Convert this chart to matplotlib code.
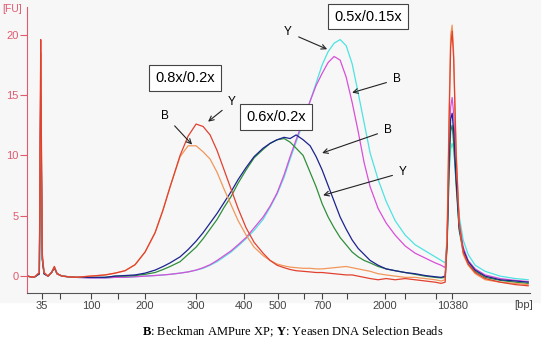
import matplotlib.pyplot as plt
from matplotlib.patches import Rectangle

plt.rcParams['font.family'] = ['Liberation Sans', 'DejaVu Sans']
plt.rcParams['mathtext.fontset'] = 'custom'
plt.rcParams['mathtext.rm'] = 'Liberation Serif'
plt.rcParams['mathtext.bf'] = 'Liberation Serif:bold'

# migration position along the run (same scale as the ladder ticks)
pos = [27, 34, 39.3, 40.2, 40.7, 41.3, 42.3, 44, 48, 51.5, 54.3, 57, 62,
       75, 90, 105, 115, 125, 135, 145, 155, 163, 170, 180, 188, 196,
       203, 210, 217, 224, 231, 238, 246, 254, 263, 270, 277, 284, 290, 296,
       303, 310, 316, 322, 328, 334, 340, 346, 352, 358, 364, 370, 378, 386, 395,
       405, 415, 425, 435, 441, 445,
       447, 449, 450.5, 452, 453.5, 456, 459, 463, 468, 475, 485, 500, 515, 528]

# ladder ticks: position and fragment size
ladder_pos = [41.7, 60, 91, 118, 145, 196, 244, 278, 304, 322, 347, 385, 405, 436, 452]
ladder_bp = ['35', '', '100', '', '200', '300', '400', '500', '', '700', '', '2000', '', '', '10380']

# fluorescence [FU]
fu_08_Y = [0.0, -0.1, 0.3, 13.5, 19.6, 12.0, 1.8, 0.3, 0.0, 0.3, 0.8, 0.2, 0.0,
           -0.1, 0.0, 0.1, 0.25, 0.45, 0.95, 2.0, 3.6, 5.5, 7.4, 10.0, 11.6, 12.6,
           12.4, 11.7, 10.4, 8.8, 7.2, 5.6, 4.0, 2.8, 1.9, 1.3, 0.9, 0.7, 0.55, 0.45,
           0.4, 0.35, 0.3, 0.3, 0.25, 0.2, 0.15, 0.1, 0.1, 0.0, -0.1, -0.2, -0.3, -0.2, -0.3,
           -0.2, -0.3, -0.4, -0.5, -0.6, -0.5,
           3.0, 13.0, 19.0, 20.3, 18.0, 10.0, 4.5, 2.0, 1.0, 0.3, -0.2, -0.5, -0.7, -0.8]
fu_08_B = [0.0, -0.1, 0.3, 12.5, 18.5, 11.0, 1.6, 0.3, 0.0, 0.3, 0.8, 0.2, 0.0,
           -0.1, 0.0, 0.1, 0.25, 0.45, 0.95, 2.0, 3.6, 5.5, 7.4, 9.9, 10.8, 10.8,
           10.3, 9.7, 8.6, 7.2, 5.9, 4.6, 3.4, 2.4, 1.7, 1.3, 1.0, 0.85, 0.75, 0.7,
           0.65, 0.65, 0.6, 0.6, 0.65, 0.7, 0.75, 0.8, 0.7, 0.6, 0.5, 0.4, 0.2, 0.1, 0.0,
           -0.1, -0.1, -0.2, -0.3, -0.4, -0.3,
           4.0, 14.0, 20.0, 20.8, 18.5, 10.5, 4.5, 1.8, 0.9, 0.2, -0.3, -0.5, -0.6, -0.7]
fu_06_B = [0.0, -0.1, 0.2, 10.5, 15.0, 9.0, 1.4, 0.2, 0.0, 0.3, 0.7, 0.2, 0.0,
           -0.1, -0.1, -0.1, 0.0, 0.05, 0.1, 0.25, 0.5, 0.8, 1.1, 1.6, 2.2, 2.9,
           3.6, 4.4, 5.2, 6.1, 7.0, 8.0, 9.0, 9.9, 10.6, 11.0, 11.3, 11.5, 11.4, 11.7,
           11.3, 10.8, 9.9, 8.8, 7.5, 6.2, 4.9, 3.9, 3.0, 2.3, 1.8, 1.3, 0.9, 0.6, 0.45,
           0.3, 0.2, 0.05, -0.05, -0.1, 0.0,
           3.0, 10.0, 13.0, 13.5, 12.0, 8.0, 4.0, 2.2, 1.2, 0.5, 0.0, -0.3, -0.4, -0.5]
fu_06_Y = [0.0, -0.1, 0.2, 9.5, 13.5, 8.0, 1.3, 0.2, 0.0, 0.3, 0.7, 0.2, 0.0,
           -0.1, -0.1, -0.1, 0.0, 0.0, 0.05, 0.15, 0.3, 0.55, 0.8, 1.2, 1.8, 2.4,
           3.1, 3.9, 4.7, 5.7, 6.6, 7.7, 8.8, 9.8, 10.5, 11.0, 11.3, 11.4, 11.1, 10.6,
           10.0, 8.6, 7.4, 6.0, 4.9, 4.0, 3.2, 2.6, 2.0, 1.6, 1.3, 1.1, 0.8, 0.6, 0.45,
           0.3, 0.15, 0.0, -0.1, -0.15, -0.1,
           2.5, 9.0, 12.0, 12.5, 11.0, 7.5, 3.8, 2.0, 1.0, 0.4, -0.1, -0.35, -0.5, -0.6]
fu_05_B = [0.0, -0.1, 0.2, 11.5, 16.5, 10.0, 1.5, 0.2, 0.0, 0.3, 0.7, 0.2, 0.0,
           -0.1, -0.15, -0.15, -0.1, -0.1, -0.05, 0.0, 0.05, 0.1, 0.15, 0.25, 0.35, 0.5,
           0.7, 0.95, 1.3, 1.7, 2.1, 2.6, 3.2, 4.0, 4.9, 5.8, 6.9, 8.4, 9.9, 11.3,
           12.9, 14.5, 15.8, 16.8, 17.7, 18.2, 17.9, 16.5, 14.4, 12.0, 9.4, 7.4, 5.6, 4.4, 3.4,
           2.5, 1.9, 1.5, 1.1, 0.9, 0.7,
           3.0, 11.0, 14.0, 14.8, 13.5, 9.0, 4.5, 2.4, 1.3, 0.6, 0.1, -0.2, -0.35, -0.45]
fu_05_Y = [0.0, -0.1, 0.2, 11.0, 15.5, 9.5, 1.4, 0.2, 0.0, 0.3, 0.7, 0.2, 0.0,
           -0.1, -0.15, -0.15, -0.1, -0.1, -0.05, 0.0, 0.05, 0.1, 0.15, 0.25, 0.35, 0.5,
           0.65, 0.9, 1.2, 1.6, 2.0, 2.5, 3.1, 3.8, 4.7, 5.7, 6.8, 8.2, 9.7, 11.1,
           12.7, 14.5, 16.0, 17.5, 18.6, 19.3, 19.6, 19.1, 17.6, 15.2, 12.7, 10.2, 8.0, 6.2, 4.6,
           3.4, 2.6, 2.1, 1.6, 1.3, 1.1,
           3.0, 8.5, 10.5, 11.0, 10.5, 8.0, 5.0, 3.0, 1.8, 0.9, 0.4, 0.0, -0.2, -0.3]

fig = plt.figure(figsize=(5.41, 3.49), dpi=100)
# light grey panel behind the electropherogram, caption strip stays white
fig.patches.append(Rectangle((0, 0.135), 1, 0.865, transform=fig.transFigure,
                             color='#f7f7f7', zorder=-1))
ax = fig.add_axes([0.05, 0.16, 0.93, 0.82])
ax.set_facecolor('none')

ax.plot(pos, fu_05_Y, color='#4fe2e2', lw=0.9)
ax.plot(pos, fu_05_B, color='#d94fd9', lw=0.9)
ax.plot(pos, fu_06_Y, color='#2f8f3a', lw=0.9)
ax.plot(pos, fu_06_B, color='#1c238f', lw=0.9)
ax.plot(pos, fu_08_B, color='#f2975a', lw=0.9)
ax.plot(pos, fu_08_Y, color='#e2412f', lw=0.9)

ax.set_xlim(27, 530)
ax.set_ylim(-1.41, 22.3)
ax.set_xticks(ladder_pos)
ax.set_xticklabels(ladder_bp)
ax.set_yticks([0, 5, 10, 15, 20])
ax.tick_params(axis='x', direction='out', length=4, width=0.8, colors='#444444',
               labelsize=8, pad=2)
ax.tick_params(axis='y', direction='out', length=5, width=0.8, colors='#e05a70',
               labelsize=8, pad=1)
ax.spines['top'].set_visible(False)
ax.spines['right'].set_visible(False)
ax.spines['left'].set_color('#e05a70')
ax.spines['bottom'].set_color('#555555')

fig.text(0.004, 0.975, '[FU]', color='#e05a70', fontsize=7.5, va='center')
fig.text(0.967, 0.126, '[bp]', color='#444444', fontsize=8, ha='center', va='center')

box = dict(boxstyle='square,pad=0.4', fc='white', ec='#444444', lw=0.8)
ax.text(185, 16.4, '0.8x/0.2x', fontsize=10.5, ha='center', va='center', bbox=box)
ax.text(276, 13.2, '0.6x/0.2x', fontsize=10.5, ha='center', va='center', bbox=box)
ax.text(368, 21.5, '0.5x/0.15x', fontsize=10.5, ha='center', va='center', bbox=box)

arrow = dict(arrowstyle='->', color='#222222', lw=0.8, shrinkA=3, shrinkB=0)
notes = [('B', (192, 10.9), (165, 13.3)),
         ('Y', (208, 12.8), (232, 14.4)),
         ('Y', (327, 18.8), (288, 20.2)),
         ('B', (352, 15.2), (397, 16.3)),
         ('B', (322, 10.2), (388, 12.1)),
         ('Y', (323, 6.7), (403, 8.6))]
for lab, head, txt in notes:
    ax.annotate(lab, xy=head, xytext=txt, fontsize=8.5, ha='center', va='center',
                arrowprops=arrow)

fig.text(0.542, 0.049, r'$\mathbf{B}$: Beckman AMPure XP; $\mathbf{Y}$: Yeasen DNA Selection Beads',
         family='Liberation Serif', fontsize=9, ha='center', va='center')

fig.savefig('out.png', dpi=100)
